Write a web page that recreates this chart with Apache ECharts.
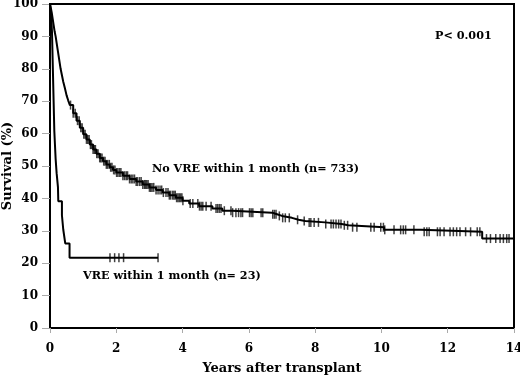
<!DOCTYPE html>
<html>
<head>
<meta charset="utf-8">
<script src="https://cdn.jsdelivr.net/npm/echarts@6/dist/echarts.min.js"></script>
<style>
  html, body { margin: 0; padding: 0; background: #fff; }
  #chart { width: 520px; height: 377px; }
</style>
</head>
<body>
<div id="chart"></div>
<script>
// Kaplan-Meier curves: [years, survival %]
var noVreCurve = [
  [0, 100], [0.02, 99], [0.05, 97.5], [0.08, 95.5], [0.11, 93.5], [0.14, 91.5],
  [0.17, 90], [0.2, 88], [0.23, 86], [0.26, 84], [0.29, 82], [0.32, 80],
  [0.36, 78], [0.4, 76], [0.45, 74], [0.5, 71.8], [0.55, 70.2], [0.6, 68.8],
  [0.7, 66.3], [0.8, 64], [0.9, 61.8], [1.0, 59.8], [1.1, 58.2], [1.2, 56.6],
  [1.3, 55.1], [1.4, 53.8], [1.5, 52.5], [1.6, 51.5], [1.7, 50.5], [1.8, 49.6],
  [1.9, 48.8], [2.0, 48], [2.2, 47], [2.4, 46], [2.6, 45.2], [2.8, 44.3],
  [3.0, 43.4], [3.2, 42.6], [3.4, 41.8], [3.6, 41], [3.8, 40.2], [4.0, 39.3],
  [4.2, 38.4], [4.5, 37.6], [4.9, 36.9], [5.2, 36.2], [5.5, 35.6], [6.7, 35.1],
  [6.85, 34.6], [7.0, 34.0], [7.3, 33.4], [7.5, 33.0], [7.7, 32.6], [8.3, 32.1],
  [8.8, 31.7], [9.0, 31.1], [10.08, 30.3], [11.19, 29.7], [13.04, 27.6], [14, 27.6]
];
var vreCurve = [
  [0, 100], [0.04, 95.7], [0.06, 91.3], [0.07, 87], [0.08, 82.6], [0.09, 78.3],
  [0.1, 73.9], [0.11, 69.6], [0.12, 65.2], [0.13, 60.9], [0.15, 56.5], [0.17, 52.2],
  [0.2, 47.8], [0.24, 43.5], [0.25, 39.1], [0.36, 34.8], [0.4, 30.4], [0.46, 26.1],
  [0.59, 21.7], [3.26, 21.7]
];
// censored observations (years)
var noVreCensor = [
  0.62, 0.7, 0.76, 0.83, 0.88, 0.93, 0.97, 1.02, 1.06, 1.1, 1.14, 1.18, 1.22, 1.25,
  1.3, 1.34, 1.37, 1.41, 1.45, 1.5, 1.53, 1.57, 1.62, 1.66, 1.7, 1.74, 1.79, 1.83,
  1.87, 1.92, 1.96, 2.01, 2.05, 2.1, 2.14, 2.2, 2.25, 2.3, 2.34, 2.4, 2.45, 2.5,
  2.55, 2.6, 2.64, 2.7, 2.75, 2.8, 2.85, 2.88, 2.92, 2.96, 3.0, 3.04, 3.08, 3.13,
  3.2, 3.26, 3.32, 3.37, 3.42, 3.5, 3.56, 3.6, 3.64, 3.7, 3.74, 3.78, 3.82, 3.86,
  3.9, 3.94, 3.98, 4.01, 4.23, 4.31, 4.46, 4.51, 4.56, 4.61, 4.71, 4.86, 5.01,
  5.06, 5.11, 5.16, 5.26, 5.46, 5.51, 5.61, 5.69, 5.76, 5.81, 6.02, 6.07, 6.12,
  6.37, 6.42, 6.72, 6.77, 6.82, 6.92, 7.02, 7.1, 7.22, 7.47, 7.67, 7.82, 7.87,
  7.97, 8.1, 8.32, 8.48, 8.55, 8.63, 8.71, 8.78, 8.88, 8.98, 9.13, 9.26, 9.68,
  9.78, 9.98, 10.06, 10.1, 10.38, 10.58, 10.66, 10.73, 10.98, 11.29, 11.37, 11.44,
  11.69, 11.77, 11.89, 12.07, 12.17, 12.27, 12.37, 12.54, 12.69, 12.89, 12.97,
  13.17, 13.29, 13.45, 13.58, 13.68, 13.78, 13.85
];
var vreCensor = [1.81, 1.95, 2.08, 2.22, 3.26];
var xTicks = [0, 2, 4, 6, 8, 10, 12, 14];
var yTicks = [0, 10, 20, 30, 40, 50, 60, 70, 80, 90, 100];

// survival at time t from a step curve
function stepValue (curve, t) {
  var v = curve[0][1]
  for (var i = 0; i < curve.length; i++) {
    if (curve[i][0] <= t) v = curve[i][1]
  }
  return v
}
function censorPoints (curve, times) {
  return times.map(function (t) { return [t, stepValue(curve, t)] })
}

var font = 'DejaVu Serif'
var labelFont = 'bold 11.2px "DejaVu Serif"'
var chart = echarts.init(document.getElementById('chart'))
chart.setOption({
  backgroundColor: '#fff',
  animation: false,
  grid: {
    left: 50, right: 6, top: 4, bottom: 49,
    containLabel: false,
    outerBoundsMode: 'none',
    show: true,
    borderColor: '#000',
    borderWidth: 2
  },
  xAxis: {
    type: 'value',
    min: xTicks[0],
    max: xTicks[xTicks.length - 1],
    interval: 2,
    name: 'Years after transplant',
    nameLocation: 'middle',
    nameGap: 34,
    nameMoveOverlap: false,
    nameTextStyle: { color: '#000', fontFamily: font, fontWeight: 'bold', fontSize: 13 },
    splitLine: { show: false },
    axisLine: { lineStyle: { color: '#000', width: 2 } },
    axisTick: { length: 5, lineStyle: { color: '#aaa' } },
    axisLabel: { color: '#000', fontFamily: font, fontWeight: 'bold', fontSize: 12, margin: 15 }
  },
  yAxis: {
    type: 'value',
    min: yTicks[0],
    max: yTicks[yTicks.length - 1],
    interval: 10,
    name: 'Survival (%)',
    nameLocation: 'middle',
    nameGap: 36,
    nameMoveOverlap: false,
    nameTextStyle: { color: '#000', fontFamily: font, fontWeight: 'bold', fontSize: 13 },
    splitLine: { show: false },
    axisLine: { lineStyle: { color: '#000', width: 2 } },
    axisTick: { length: 8, lineStyle: { color: '#aaa' } },
    axisLabel: { color: '#000', fontFamily: font, fontWeight: 'bold', fontSize: 12, margin: 12 }
  },
  graphic: [
    { type: 'text', left: 152, top: 164, style: { text: 'No VRE within 1 month (n= 733)', fill: '#000', font: labelFont } },
    { type: 'text', left: 83, top: 271, style: { text: 'VRE within 1 month (n= 23)', fill: '#000', font: labelFont } },
    { type: 'text', left: 435, top: 31, style: { text: 'P< 0.001', fill: '#000', font: labelFont } }
  ],
  series: [
    {
      type: 'line',
      step: 'end',
      symbol: 'none',
      lineStyle: { color: '#000', width: 2 },
      data: noVreCurve
    },
    {
      type: 'line',
      step: 'end',
      symbol: 'none',
      lineStyle: { color: '#000', width: 2 },
      data: vreCurve
    },
    {
      type: 'scatter',
      symbol: 'rect',
      symbolSize: [1.5, 9],
      itemStyle: { color: '#111' },
      data: censorPoints(noVreCurve, noVreCensor)
    },
    {
      type: 'scatter',
      symbol: 'rect',
      symbolSize: [1.5, 9],
      itemStyle: { color: '#111' },
      data: censorPoints(vreCurve, vreCensor)
    }
  ]
})
</script>
</body>
</html>
